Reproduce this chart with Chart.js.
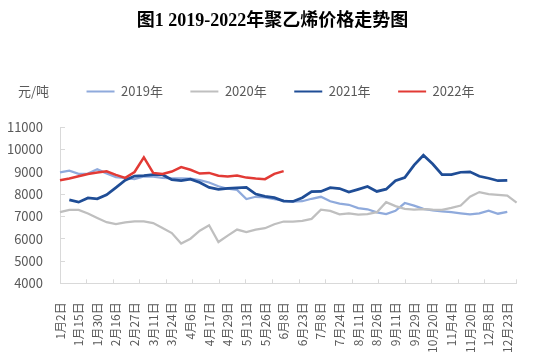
<!DOCTYPE html>
<html><head><meta charset="utf-8">
<script src="https://cdn.jsdelivr.net/npm/chart.js@4/dist/chart.umd.min.js"></script>
<style>html,body{margin:0;padding:0;background:#fff;}#wrap{width:546px;height:357px;}</style>
</head><body><div id="wrap"><canvas id="c" width="546" height="357"></canvas></div>
<script>
const titleText = '图1 2019-2022年聚乙烯价格走势图';
const unitText = '元/吨';
const seriesNames = ['2019年', '2020年', '2021年', '2022年'];
const tickLabels = ['1月2日','1月15日','1月30日','2月16日','2月27日','3月11日','3月24日','4月6日','4月17日','4月29日','5月13日','5月26日','6月8日','6月23日','7月8日','7月24日','8月11日','8月26日','9月11日','9月29日','10月20日','11月4日','11月20日','12月8日','12月23日'];
const categories = [];
for (let i = 0; i < tickLabels.length * 2; i++) categories.push(i % 2 === 0 ? tickLabels[i / 2] : '');
const yTicksMin = 4000, yTicksMax = 11000, yTicksStep = 1000;

const s2019 = [8970,9050,8910,8920,9110,8930,8760,8720,8670,8790,8780,8730,8710,8700,8690,8630,8520,8350,8240,8190,7780,7880,7850,7770,7710,7660,7680,7790,7880,7680,7570,7520,7370,7320,7180,7100,7250,7600,7480,7340,7270,7230,7190,7140,7090,7140,7260,7120,7200,null];
const s2020 = [7190,7290,7290,7130,6930,6740,6650,6730,6780,6780,6700,6480,6250,5780,6000,6360,6600,5850,6140,6410,6300,6410,6470,6650,6770,6770,6800,6890,7300,7250,7090,7140,7080,7100,7190,7640,7460,7340,7300,7330,7300,7290,7380,7490,7880,8090,8000,7970,7930,7620];
const s2021 = [null,7740,7640,7830,7790,7970,8290,8620,8810,8830,8870,8870,8650,8600,8670,8520,8300,8210,8260,8280,8300,8000,7900,7840,7690,7670,7840,8110,8120,8290,8250,8090,8210,8340,8120,8220,8600,8740,9300,9740,9350,8870,8870,8980,9000,8800,8710,8600,8620,null];
const s2022 = [8620,8700,8800,8900,8970,9020,8860,8730,8990,9650,8950,8900,9010,9210,9090,8920,8950,8820,8790,8830,8740,8700,8670,8910,9030,null,null,null,null,null,null,null,null,null,null,null,null,null,null,null,null,null,null,null,null,null,null,null,null,null];

const FONT = "'Noto Sans CJK SC', 'Noto Sans', sans-serif";
const colors = ['#8faadc', '#bfbfbf', '#1f4d96', '#e23a35'];
const widths = [2.25, 2.25, 2.75, 2.5];
const allSeries = [s2019, s2020, s2021, s2022];

const headerTweak = {
  id: 'headerTweak',
  afterLayout(chart) {
    const lg = chart.legend; lg.left += 11; lg.right += 11;
    const tb = chart.titleBlock; tb.left += 3; tb.right += 3;
  },
  afterDraw(chart) {
    const lg = chart.legend; const ctx = chart.ctx;
    ctx.save();
    ctx.font = '13px ' + FONT;
    ctx.fillStyle = '#595959';
    ctx.textAlign = 'left';
    ctx.textBaseline = 'middle';
    ctx.fillText(unitText, 18, lg.top + lg.options.labels.padding + 6.5);
    ctx.restore();
  }
};

new Chart(document.getElementById('c'), {
  type: 'line',
  data: {
    labels: categories,
    datasets: allSeries.map((d, i) => ({
      label: seriesNames[i], data: d,
      borderColor: colors[i], backgroundColor: colors[i],
      borderWidth: widths[i], pointRadius: 0, tension: 0, fill: false,
      order: 4 - i, xAxisID: 'x', yAxisID: 'y'
    }))
  },
  options: {
    responsive: false, animation: false,
    layout: { padding: { left: 2, right: 9, top: 0, bottom: 0 } },
    plugins: {
      title: { display: true, text: titleText, color: '#000',
        font: { family: "'Liberation Serif', 'Noto Sans CJK SC', serif", size: 18, weight: 'bold' },
        padding: { top: 10.7, bottom: 25.2 } },
      legend: { position: 'top',
        labels: { boxWidth: 28, boxHeight: 2, padding: 27.5, color: '#595959',
          font: { family: FONT, size: 13 },
          sort: (a, b) => a.datasetIndex - b.datasetIndex,
          generateLabels: (chart) => Chart.defaults.plugins.legend.labels.generateLabels(chart).map(l => Object.assign(l, { lineWidth: 0, fillStyle: l.strokeStyle })) } },
      tooltip: { enabled: false }
    },
    scales: {
      x: { type: 'category', position: 'bottom', weight: 1,
        grid: { display: false }, border: { display: false },
        ticks: { autoSkip: false, minRotation: 90, maxRotation: 90, padding: 15, color: '#595959', font: { family: FONT, size: 12 } },
        afterFit: (s) => { s.height = 73.7; } },
      xt: { type: 'linear', position: 'bottom', weight: 0, min: 0, max: 17.19,
        ticks: { display: false, stepSize: 1 },
        grid: { drawOnChartArea: false, tickLength: -4, color: '#d9d9d9' },
        border: { display: true, color: '#d9d9d9' } },
      gap: { type: 'linear', position: 'top', display: true,
        ticks: { display: false }, grid: { display: false }, border: { display: false },
        title: { display: true, text: '', font: { size: 1 }, padding: { top: 10, bottom: 0 } } },
      y: { type: 'linear', position: 'left', min: yTicksMin, max: yTicksMax,
        ticks: { stepSize: yTicksStep, padding: 22, color: '#595959', font: { family: FONT, size: 13 },
          callback: (v) => String(v) },
        grid: { drawOnChartArea: false, tickLength: -5, color: '#d9d9d9' },
        border: { color: '#d9d9d9' },
        afterFit: (s) => { s.width = 58; } }
    }
  },
  plugins: [headerTweak]
});
</script></body></html>
